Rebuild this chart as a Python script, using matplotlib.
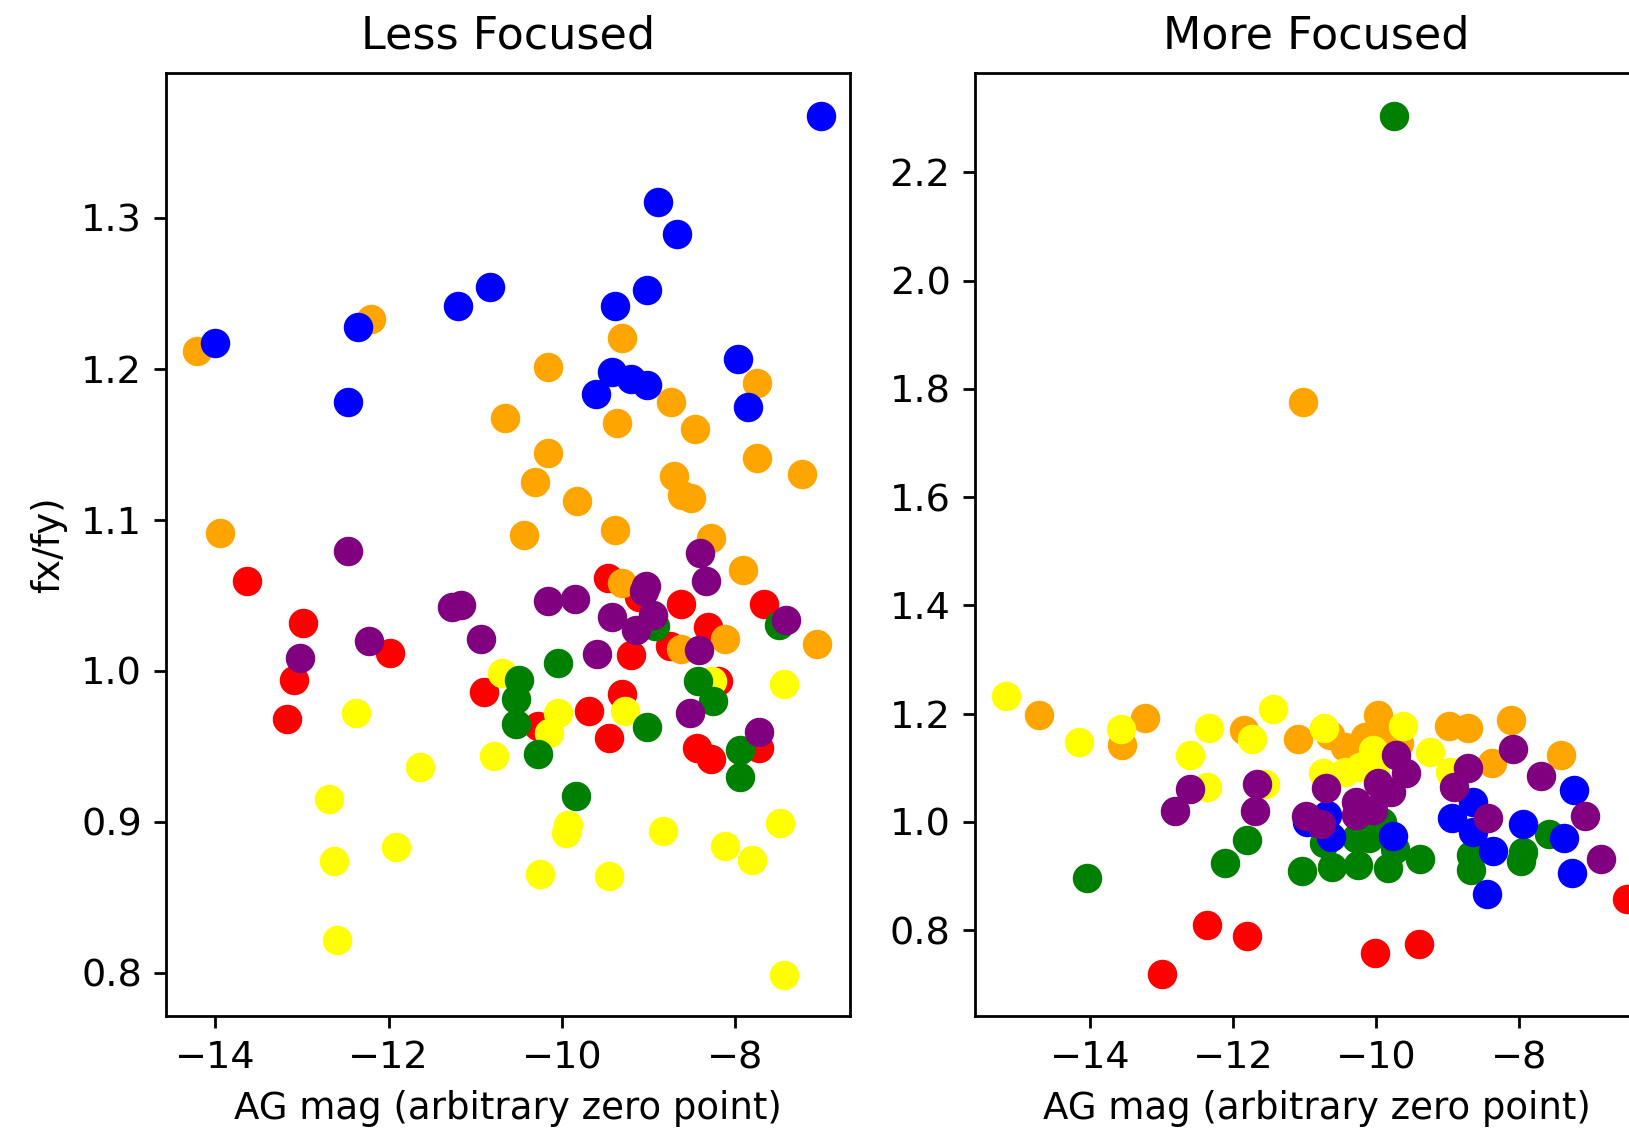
import matplotlib
matplotlib.use("Agg")
import matplotlib.pyplot as plt

# Less focused panel, (AG mag, fx/fy) per colour group
less_red_x = [-13.64, -12.99, -11.98, -13.09, -13.18, -9.47, -9.11, -8.62, -7.66, -8.75,
              -9.20, -8.31, -8.20, -10.90, -9.30, -10.27, -9.69, -9.45, -8.44, -8.28, -7.72]
less_red_y = [1.0595, 1.0315, 1.0117, 0.994, 0.968, 1.0617, 1.049, 1.0443, 1.0441, 1.0161,
              1.0104, 1.0287, 0.993, 0.9857, 0.9846, 0.9632, 0.9736, 0.9555, 0.9489, 0.9416, 0.9489]

less_orange_x = [-14.21, -12.20, -9.30, -10.16, -7.75, -8.74, -10.66, -9.36, -8.46, -10.16,
                 -7.75, -7.23, -8.71, -10.31, -8.61, -8.51, -9.82, -13.95, -10.44, -9.39,
                 -8.28, -7.91, -9.30, -8.12, -8.62, -7.05]
less_orange_y = [1.2118, 1.2330, 1.2204, 1.2012, 1.1906, 1.178, 1.1674, 1.1641, 1.1601, 1.1444,
                 1.1411, 1.1303, 1.1289, 1.125, 1.1161, 1.1146, 1.1124, 1.0914, 1.0896, 1.0930,
                 1.0878, 1.067, 1.0584, 1.0209, 1.0145, 1.0176]

less_yellow_x = [-10.69, -8.27, -7.44, -12.38, -10.04, -9.27, -10.15, -10.78, -11.64, -12.69,
                 -9.93, -9.95, -8.83, -7.48, -11.92, -12.63, -10.25, -9.45, -8.12, -7.81,
                 -12.60, -7.44]
less_yellow_y = [0.9985, 0.993, 0.9912, 0.972, 0.972, 0.9736, 0.9588, 0.9434, 0.9363, 0.9154,
                 0.8982, 0.8927, 0.8942, 0.8993, 0.8832, 0.8744, 0.8658, 0.864, 0.8838, 0.8746,
                 0.8217, 0.799]

less_green_x = [-10.50, -10.53, -10.53, -10.04, -10.28, -8.92, -8.43, -8.25, -9.02, -7.94,
                -7.94, -9.84, -7.49]
less_green_y = [0.994, 0.9815, 0.9647, 1.0051, 0.9451, 1.0298, 0.993, 0.9802, 0.9625, 0.9473,
                0.9295, 0.9173, 1.03]

less_blue_x = [-7.01, -8.89, -8.67, -10.83, -11.20, -9.02, -9.39, -14.01, -12.35, -7.97,
               -9.42, -9.20, -9.02, -9.61, -7.85, -12.47]
less_blue_y = [1.3674, 1.3106, 1.2894, 1.254, 1.2417, 1.252, 1.2417, 1.2169, 1.2275, 1.2067,
               1.1977, 1.193, 1.189, 1.1835, 1.1743, 1.178]

less_purple_x = [-12.47, -13.02, -12.23, -11.27, -11.16, -10.93, -10.16, -9.85, -9.42, -9.60,
                 -9.03, -9.05, -8.95, -9.14, -8.40, -8.34, -8.42, -8.52, -7.41, -7.72]
less_purple_y = [1.0793, 1.0088, 1.0194, 1.0425, 1.0436, 1.0212, 1.0463, 1.0474, 1.0353, 1.0108,
                 1.0562, 1.0525, 1.037, 1.0267, 1.0778, 1.0595, 1.0139, 0.972, 1.0333, 0.9594]

# More focused panel
more_red_x = [-13.00, -12.37, -11.81, -10.02, -9.40, -6.49]
more_red_y = [0.7191, 0.8086, 0.7883, 0.758, 0.7735, 0.8568]

more_orange_x = [-11.02, -14.72, -13.56, -13.23, -11.85, -11.10, -10.64, -10.43, -10.16, -9.98,
                 -9.86, -9.68, -8.98, -8.71, -8.12, -8.38, -7.42]
more_orange_y = [1.776, 1.1975, 1.142, 1.1926, 1.1698, 1.1531, 1.1605, 1.1389, 1.1574, 1.1975,
                 1.1728, 1.1451, 1.1778, 1.1728, 1.1883, 1.108, 1.1235]

more_yellow_x = [-15.17, -14.16, -13.57, -12.60, -12.34, -12.37, -11.73, -11.56, -11.44, -10.73,
                 -10.74, -10.43, -10.22, -10.04, -10.01, -9.62, -9.25, -8.97]
more_yellow_y = [1.2327, 1.148, 1.171, 1.1235, 1.1728, 1.0648, 1.1531, 1.0698, 1.208, 1.1728,
                 1.0895, 1.0926, 1.1019, 1.1327, 1.0988, 1.1778, 1.1284, 1.0926]

more_green_x = [-9.75, -14.05, -12.12, -11.81, -11.04, -10.73, -10.62, -10.28, -10.25, -10.10,
                -9.92, -9.83, -9.74, -9.39, -8.67, -8.68, -7.95, -7.97, -7.58]
more_green_y = [2.3038, 0.8963, 0.9247, 0.966, 0.9093, 0.9599, 0.9167, 0.9691, 0.9198, 0.9691,
                1.0, 0.9148, 0.9506, 0.9321, 0.9383, 0.9105, 0.9444, 0.9272, 0.9765]

more_blue_x = [-10.69, -10.63, -10.97, -9.76, -8.94, -8.64, -8.64, -8.37, -8.45, -7.95,
               -7.23, -7.38, -7.26]
more_blue_y = [1.0123, 0.9722, 1.0, 0.9741, 1.0062, 1.037, 0.9815, 0.9457, 0.8673, 0.9957,
               1.0586, 0.9704, 0.9062]

more_purple_x = [-12.81, -12.60, -11.67, -11.70, -10.70, -10.98, -10.77, -10.28, -10.28, -10.04,
                 -9.98, -9.80, -9.73, -9.58, -8.91, -8.72, -8.09, -8.43, -7.70, -7.08, -6.86]
more_purple_y = [1.0198, 1.0599, 1.0698, 1.0198, 1.063, 1.0111, 0.9957, 1.037, 1.0123, 1.0216,
                 1.071, 1.0556, 1.1235, 1.0895, 1.0636, 1.1, 1.1346, 1.0062, 1.0852, 1.0105, 0.9321]

plt.rcParams["font.size"] = 10.7
plt.rcParams["xtick.labelsize"] = 11
plt.rcParams["ytick.labelsize"] = 11

fig = plt.figure(figsize=(6.516, 4.54), dpi=250)
ax1 = fig.add_axes([0.1022, 0.1048, 0.4193, 0.8308])
ax2 = fig.add_axes([0.5985, 0.1048, 0.4193, 0.8308])

s = 56
ax1.scatter(less_red_x, less_red_y, color="red", s=s)
ax1.scatter(less_orange_x, less_orange_y, color="orange", s=s)
ax1.scatter(less_yellow_x, less_yellow_y, color="yellow", s=s)
ax1.scatter(less_green_x, less_green_y, color="green", s=s)
ax1.scatter(less_blue_x, less_blue_y, color="blue", s=s)
ax1.scatter(less_purple_x, less_purple_y, color="purple", s=s)

ax2.scatter(more_red_x, more_red_y, color="red", s=s)
ax2.scatter(more_orange_x, more_orange_y, color="orange", s=s)
ax2.scatter(more_yellow_x, more_yellow_y, color="yellow", s=s)
ax2.scatter(more_green_x, more_green_y, color="green", s=s)
ax2.scatter(more_blue_x, more_blue_y, color="blue", s=s)
ax2.scatter(more_purple_x, more_purple_y, color="purple", s=s)

ax1.set_xlim(-14.566, -6.678)
ax1.set_ylim(0.7715, 1.3956)
ax2.set_xlim(-15.61, -6.06)
ax2.set_ylim(0.641, 2.3835)

ax1.set_title("Less Focused", fontsize=12.8, pad=7)
ax2.set_title("More Focused", fontsize=12.8, pad=7)
ax1.set_xlabel("AG mag (arbitrary zero point)")
ax2.set_xlabel("AG mag (arbitrary zero point)")
ax1.set_ylabel("fx/fy)")

fig.savefig("out.png", dpi=250)
